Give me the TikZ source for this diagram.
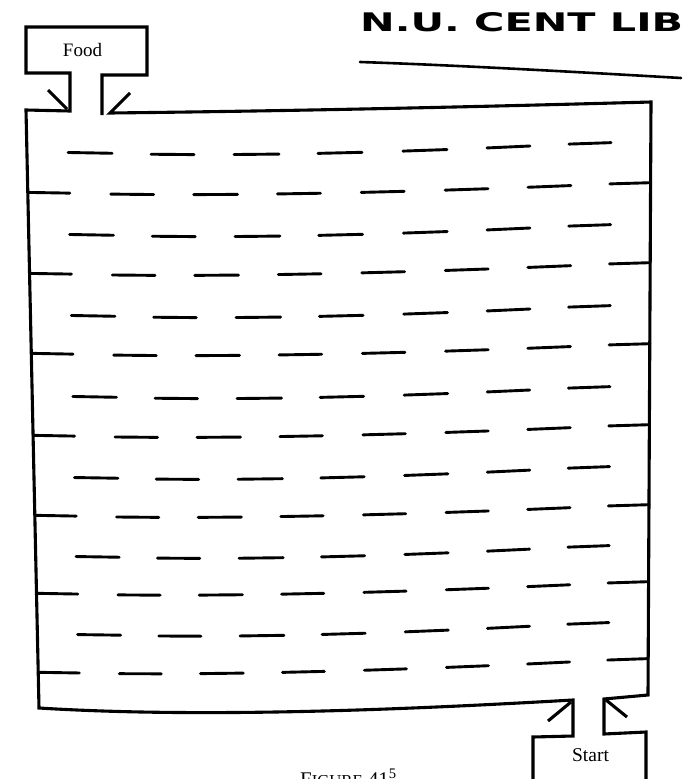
\documentclass[tikz,border=0pt]{standalone}
\usepackage{fontspec}
\usepackage{graphicx}
\setmainfont{Liberation Serif}
\newfontfamily\stampfont{DejaVu Sans}
\tikzset{
  wall/.style={line width=3.1pt, line join=miter, line cap=butt},
  dashline/.style={line width=2.9pt, line cap=round},
  stampline/.style={line width=2.6pt, line cap=round},
  label/.style={inner sep=0pt, anchor=base, font=\fontsize{19}{19}\selectfont},
  declare function={
    uu(\vX,\vL,\vR)=(\vX-\vL)/(\vR-\vL);
    vv(\vX,\vL,\vR)=pow(min(max(uu(\vX,\vL,\vR),0.001),0.999),0.8);
    rowy(\vX,\vA,\vB,\vL,\vR)=\vA+(\vB-\vA)*uu(\vX,\vL,\vR)+22*vv(\vX,\vL,\vR)*(1-vv(\vX,\vL,\vR));
    shx(\vX,\vY)=(\vY-150)*(0.021-0.026*(\vX-40)/580);
    wl(\vY)=26+13*(\vY-111)/597;
    wr(\vY)=651-3*(\vY-102)/593;
  }
}
\begin{document}
\begin{tikzpicture}[x=1pt,y=-1pt]
\useasboundingbox (0,0) rectangle (692,779);
\clip (0,0) rectangle (692,779);

% Food box, left and bottom walls, Start box left half
\draw[wall] (102,115) -- (102,75) -- (147,75) -- (147,27) -- (26,27) -- (26,73) -- (70,73)
  -- (70,111) -- (26,110) -- (39,708)
  .. controls (200,718) and (400,710) .. (573,700)
  -- (573,736) -- (533,737) -- (533,800);
% Start box right half, right wall, top wall
\draw[wall] (646,800) -- (646,732) -- (604,734) -- (604,699) -- (648,695) -- (651,102)
  .. controls (470,107) and (290,111) .. (110,113) -- (130,93);
% flaps
\draw[wall] (48,90) -- (67,109);
\draw[wall] (548,721) -- (571,702);
\draw[wall] (606,700) -- (627,717);

% rows of dashes
\foreach \ya/\yb [count=\k] in {152/143,192/183,234/225,273/263,315/306,353/344,396/387,435/425,477/467,515/505,556/546,593/582,634/623,672/659}{
  \ifodd\k\relax
    \foreach \xa/\xb in {68/112,151/194,234/279,318/362,403/447,487/530,569/611}{
      \pgfmathsetmacro\yA{rowy(\xa,\ya,\yb,90,590)}
      \pgfmathsetmacro\yB{rowy(\xb,\ya,\yb,90,590)}
      \pgfmathsetmacro\xA{\xa+shx(\xa,\yA)}
      \pgfmathsetmacro\xB{\xb+shx(\xb,\yB)}
      \draw[dashline] (\xA,\yA) -- (\xB,\yB);
    }
  \else
    \foreach \xa/\xb in {110/153,193/237,277/320,361/404,445/488,528/571}{
      \pgfmathsetmacro\yA{rowy(\xa,\ya,\yb,48,630)}
      \pgfmathsetmacro\yB{rowy(\xb,\ya,\yb,48,630)}
      \pgfmathsetmacro\xA{\xa+shx(\xa,\yA)}
      \pgfmathsetmacro\xB{\xb+shx(\xb,\yB)}
      \draw[dashline] (\xA,\yA) -- (\xB,\yB);
    }
    \pgfmathsetmacro\xA{wl(\ya)}
    \pgfmathsetmacro\yA{rowy(\xA,\ya,\yb,48,630)}
    \pgfmathsetmacro\yB{rowy(69,\ya,\yb,48,630)}
    \pgfmathsetmacro\xB{69+shx(69,\yB)}
    \draw[dashline] (\xA,\yA) -- (\xB,\yB);
    \pgfmathsetmacro\yC{rowy(610,\ya,\yb,48,630)}
    \pgfmathsetmacro\xC{610+shx(610,\yC)}
    \pgfmathsetmacro\xD{wr(\yb)}
    \pgfmathsetmacro\yD{rowy(\xD,\ya,\yb,48,630)}
    \draw[dashline] (\xC,\yC) -- (\xD,\yD);
  \fi
}

% labels
\node[label] (food) at (82.5,56.7) {Food};
\node[label, font=\fontsize{19.5}{19.5}\selectfont] (start) at (590.5,761.7) {Start};

% library stamp
\node[inner sep=0pt, anchor=base west] (stamp) at (360,31)
  {\resizebox{323pt}{19pt}{\stampfont\bfseries N.U. CENT LIB}};
\draw[stampline] (360,62) .. controls (450,65) and (560,71) .. (681,78);

% caption (cut off by the lower border, as in the reference)
\node[inner sep=0pt, anchor=north west] (caption) at (300,769)
  {\resizebox{97pt}{!}{F\scalebox{0.8}{IGURE} 41\textsuperscript{5}}};
\end{tikzpicture}
\end{document}
